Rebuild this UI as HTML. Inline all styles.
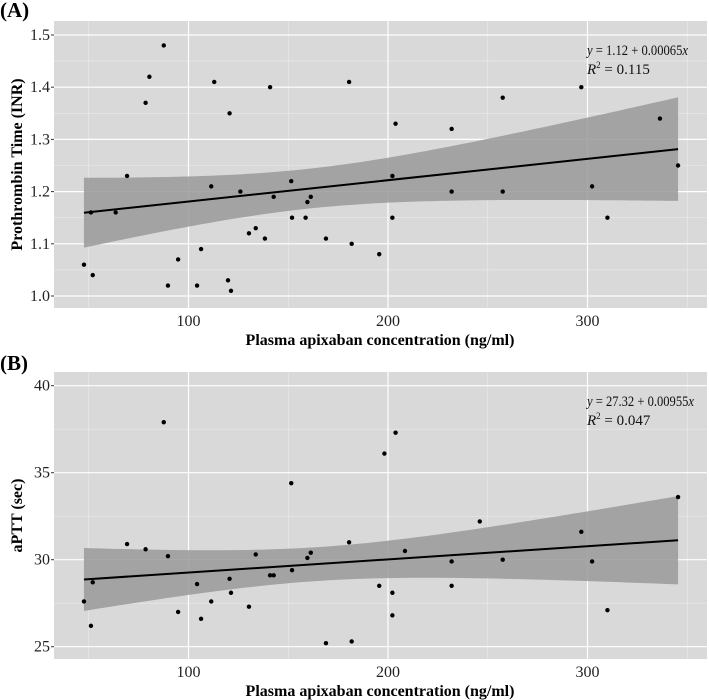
<!DOCTYPE html>
<html><head><meta charset="utf-8">
<style>
body{margin:0;background:#fff;}
svg{display:block;font-family:"Liberation Serif",serif;}
</style></head>
<body>
<svg id="chart" width="709" height="700"></svg>
<script>
// Panel A data
const concA = [47.6,51.1,52,63.5,69.2,78.5,80.4,87.6,89.7,94.8,104.3,106.3,111.4,112.9,119.8,120.6,121.3,126,130.3,133.7,138.3,140.9,142.7,151.5,151.9,158.7,159.6,161.3,168.9,180.5,181.8,195.6,202.2,202.2,203.8,231.9,231.9,257.5,257.5,296.9,302.3,310,336.3,345.4];
const inrA = [1.06,1.16,1.04,1.16,1.23,1.37,1.42,1.48,1.02,1.07,1.02,1.09,1.21,1.41,1.03,1.35,1.01,1.20,1.12,1.13,1.11,1.40,1.19,1.22,1.15,1.15,1.18,1.19,1.11,1.41,1.10,1.08,1.23,1.15,1.33,1.32,1.20,1.38,1.20,1.40,1.21,1.15,1.34,1.25];
const yTicksA = [1.0,1.1,1.2,1.3,1.4,1.5];
const yTickLabelsA = ["1.0","1.1","1.2","1.3","1.4","1.5"];
// Panel B data
const concB = [47.6,51.1,52,69.2,78.5,87.6,89.7,94.8,104.3,106.3,111.4,120.6,121.3,130.3,133.7,140.9,142.7,151.5,151.9,159.6,161.3,168.9,180.5,181.8,195.6,198.2,202.2,202.2,203.8,208.5,231.9,231.9,246,257.5,296.9,302.3,310,345.4];
const apttB = [27.6,26.2,28.7,30.9,30.6,37.9,30.2,27.0,28.6,26.6,27.6,28.9,28.1,27.3,30.3,29.1,29.1,34.4,29.4,30.1,30.4,25.2,31.0,25.3,28.5,36.1,28.1,26.8,37.3,30.5,29.9,28.5,32.2,30.0,31.6,29.9,27.1,33.6];
const yTicksB = [25,30,35,40];
const yTickLabelsB = ["25","30","35","40"];
const xTicks = [100,200,300];
const xTickLabels = ["100","200","300"];

const NS="http://www.w3.org/2000/svg";
const svg=document.getElementById('chart');
function mk(tag,attrs,parent){const e=document.createElementNS(NS,tag);for(const k in attrs)e.setAttribute(k,attrs[k]);(parent||svg).appendChild(e);return e;}

function panel(opt){
  const g=mk('g',{});
  
  
  const L=54,R=707,T=opt.top,B=opt.bottom;
  const xs=v=>188.5+(v-100)*1.995;
  const ys=v=>opt.y0px+(v-opt.y0)*(opt.y1px-opt.y0px)/(opt.y1-opt.y0);
  const bg=mk('rect',{x:L,y:T,width:R-L,height:B-T,fill:'#d9d9d9'},g);
  
  
  [50,150,250,350].forEach(v=>{const l=mk('line',{x1:xs(v),x2:xs(v),y1:T,y2:B,stroke:'#ececec','stroke-width':0.6},g);});
  for(let i=0;i<opt.ticks.length-1;i++){const v=(opt.ticks[i]+opt.ticks[i+1])/2;const l=mk('line',{x1:L,x2:R,y1:ys(v),y2:ys(v),stroke:'#ececec','stroke-width':0.6},g);}
  xTicks.forEach((v,i)=>{const l=mk('line',{x1:xs(v),x2:xs(v),y1:T,y2:B,stroke:'#fff','stroke-width':1.2},g);
    const t=mk('text',{x:xs(v),y:B+18,'text-anchor':'middle','font-size':16,fill:'#222'},g);t.textContent=xTickLabels[i];});
  opt.ticks.forEach((v,i)=>{const l=mk('line',{x1:L,x2:R,y1:ys(v),y2:ys(v),stroke:'#fff','stroke-width':1.2},g);
    const tk=mk('line',{x1:L-3,x2:L,y1:ys(v),y2:ys(v),stroke:'#333','stroke-width':1},g);
    const t=mk('text',{x:L-4,y:ys(v)+5,'text-anchor':'end','font-size':16,fill:'#222'},g);t.textContent=opt.labels[i];});
  const X=opt.x,Y=opt.y,n=X.length;
  const mx=X.reduce((a,b)=>a+b)/n,my=Y.reduce((a,b)=>a+b)/n;
  let sxx=0,sxy=0;for(let i=0;i<n;i++){sxx+=(X[i]-mx)**2;sxy+=(X[i]-mx)*(Y[i]-my);}
  const b1=sxy/sxx,b0=my-b1*mx;
  let sse=0;for(let i=0;i<n;i++)sse+=(Y[i]-b0-b1*X[i])**2;
  const s=Math.sqrt(sse/(n-2)),tq=2.02;
  const xmin=Math.min(...X),xmax=Math.max(...X);
  let up=[],lo=[];
  for(let k=0;k<=80;k++){const xv=xmin+(xmax-xmin)*k/80;const f=b0+b1*xv;const se=s*Math.sqrt(1/n+(xv-mx)**2/sxx);up.push([xs(xv),ys(f+tq*se)]);lo.push([xs(xv),ys(f-tq*se)]);}
  const pts=up.concat(lo.reverse()).map(p=>p.join(',')).join(' ');
  const band=mk('polygon',{points:pts,fill:'#999999','fill-opacity':0.85},g);
  
  const fl=mk('line',{x1:xs(xmin),y1:ys(b0+b1*xmin),x2:xs(xmax),y2:ys(b0+b1*xmax),stroke:'#000','stroke-width':2},g);
  
  for(let i=0;i<n;i++){const c=mk('circle',{cx:xs(X[i]),cy:ys(Y[i]),r:2.2,fill:'#000'},g);}
  const a1=mk('text',{x:587,y:T+34,'font-size':15,fill:'#111',textLength:opt.eqLen,lengthAdjust:'spacingAndGlyphs'},g);
  a1.innerHTML='<tspan font-style="italic">y</tspan> = '+opt.eq+'<tspan font-style="italic">x</tspan>';
  
  const a2=mk('text',{x:587,y:T+53,'font-size':15,fill:'#111'},g);
  a2.innerHTML='<tspan font-style="italic">R</tspan><tspan font-size="9" dy="-6">2</tspan><tspan dy="6"> = '+opt.r2+'</tspan>';
  
  const xt=mk('text',{x:380,y:B+37,'text-anchor':'middle','font-size':16,'font-weight':'bold',fill:'#000'},g);
  xt.textContent='Plasma apixaban concentration (ng/ml)';
  const cy=(T+B)/2;
  const yt=mk('text',{x:16,y:cy,'text-anchor':'middle','font-size':16,'font-weight':'bold',fill:'#000',transform:'rotate(-90 16 '+cy+')'},g);
  yt.setAttribute('dy','6');
  yt.textContent=opt.ytitle;
  const pl=mk('text',{x:0,y:opt.labelY,'font-size':21,'font-weight':'bold',fill:'#000'},g);
  pl.textContent=opt.panelLabel;
}
panel({name:'panel-a-prothrombin',top:21,bottom:308,y0:1.0,y0px:296,y1:1.5,y1px:35,ticks:yTicksA,labels:yTickLabelsA,x:concA,y:inrA,eq:'1.12 + 0.00065',eqLen:101,r2:'0.115',ytitle:'Prothrombin Time (INR)',panelLabel:'(A)',labelY:17});
panel({name:'panel-b-aptt',top:372,bottom:659,y0:25,y0px:646.7,y1:40,y1px:385.7,ticks:yTicksB,labels:yTickLabelsB,x:concB,y:apttB,eq:'27.32 + 0.00955',eqLen:107,r2:'0.047',ytitle:'aPTT (sec)',panelLabel:'(B)',labelY:370});
</script>
</body></html>
